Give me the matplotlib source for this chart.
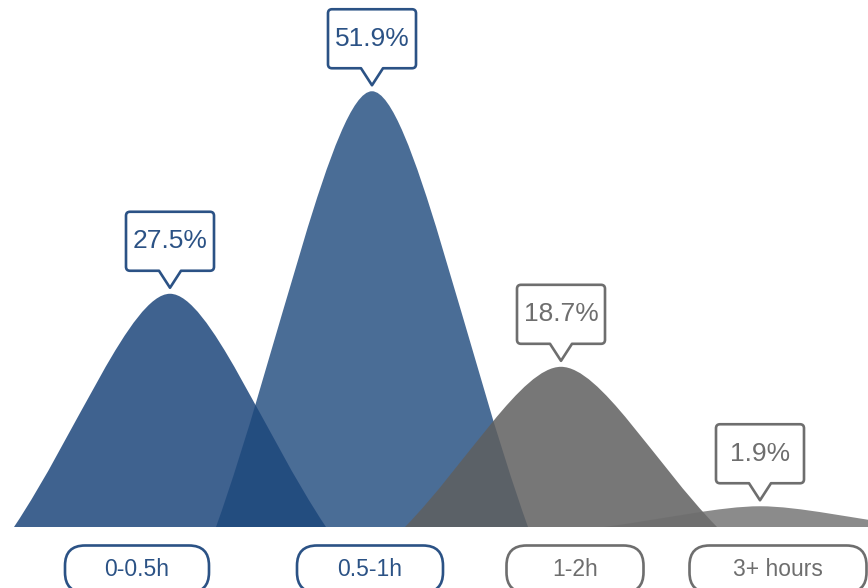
import matplotlib
matplotlib.use('Agg')
import matplotlib.pyplot as plt
from matplotlib.path import Path
from matplotlib.patches import PathPatch

plt.rcParams['font.family'] = ['Liberation Sans', 'DejaVu Sans']

# Données
categories = ["0-0.5h", "0.5-1h", "1-2h", "3+ hours"]
shares     = [27.5, 51.9, 18.7, 1.9]
label_txt  = ["27.5%", "51.9%", "18.7%", "1.9%"]

# Styles
fill_col  = ["#3f628f", "#1d487c", "#5f5f5f", "#6e6e6e"]
fill_alp  = [1.0, 0.8, 0.85, 0.8]
line_col  = ["#2b5285", "#2b5285", "#6e6e6e", "#6e6e6e"]
peak_dx   = [2, 7, -1, 1]          # petit décalage des pics (px)
label_dx  = [-31, 5, 13, 19]       # décalage des étiquettes du bas (px)
label_w   = [144, 146, 137, 177]   # largeur des pastilles du bas (px)

W, H, DPI = 868, 588, 100
X_PX   = 197.0                 # px par catégorie
Y_PX   = 8.3                   # px par point de pourcentage
X0_PX  = 168.0                 # position de la première catégorie
BASE_PX = 61.0                 # hauteur de la ligne de base depuis le bas
FLOOR  = -0.6                  # plancher de l'axe des valeurs
HALF_W = 156.0 / X_PX          # demi-largeur d'une montagne

fig = plt.figure(figsize=(W / DPI, H / DPI), dpi=DPI)
ax = fig.add_axes([0, 0, 1, 1])
ax.set_xlim(-X0_PX / X_PX, (W - X0_PX) / X_PX)
ax.set_ylim(FLOOR - BASE_PX / Y_PX, FLOOR + (H - BASE_PX) / Y_PX)
ax.axis('off')

sx, sy = 1.0 / X_PX, 1.0 / Y_PX   # px -> unités de données


def mountain(xc, top):
    # demi-profil en bézier cubique, puis symétrique
    c1, c2 = (0.40, 0.40), (0.75, 1.0)
    h = top - FLOOR
    b = FLOOR
    verts = [(xc - HALF_W, b),
             (xc - HALF_W + c1[0] * HALF_W, b + c1[1] * h),
             (xc - HALF_W + c2[0] * HALF_W, b + c2[1] * h),
             (xc, top),
             (xc + HALF_W - c2[0] * HALF_W, b + c2[1] * h),
             (xc + HALF_W - c1[0] * HALF_W, b + c1[1] * h),
             (xc + HALF_W, b),
             (xc - HALF_W, b)]
    codes = [Path.MOVETO] + [Path.CURVE4] * 6 + [Path.CLOSEPOLY]
    return Path(verts, codes)


def rounded_box(w, h, r, pw=0, ph=0):
    # boîte arrondie (bas au y=0), avec pointe optionnelle vers le bas
    v, c = [], []
    if pw:
        v += [(-pw, 0), (0, -ph), (pw, 0)]
        c += [Path.MOVETO, Path.LINETO, Path.LINETO]
    else:
        v += [(0, 0)]
        c += [Path.MOVETO]
    v += [(w/2 - r, 0), (w/2, 0), (w/2, r),
          (w/2, h - r), (w/2, h), (w/2 - r, h),
          (-w/2 + r, h), (-w/2, h), (-w/2, h - r),
          (-w/2, r), (-w/2, 0), (-w/2 + r, 0),
          v[0]]
    c += [Path.LINETO, Path.CURVE3, Path.CURVE3,
          Path.LINETO, Path.CURVE3, Path.CURVE3,
          Path.LINETO, Path.CURVE3, Path.CURVE3,
          Path.LINETO, Path.CURVE3, Path.CURVE3,
          Path.CLOSEPOLY]
    return v, c


def place(v, x, y, dy_px):
    return [(x + a * sx, y + (b + dy_px) * sy) for a, b in v]


xs = [i + peak_dx[i] * sx for i in range(len(shares))]

# Montagnes
for i, val in enumerate(shares):
    ax.add_patch(PathPatch(mountain(xs[i], val), facecolor=fill_col[i],
                           alpha=fill_alp[i], edgecolor='none', zorder=2 + i))

# Bulles de valeur
BOX_W, BOX_H, PW, PH, GAP = 88, 59, 11, 17, 6
for i, val in enumerate(shares):
    v, c = rounded_box(BOX_W, BOX_H, 4, PW, PH)
    ax.add_patch(PathPatch(Path(place(v, xs[i], val, PH + GAP), c),
                           facecolor='white', edgecolor=line_col[i],
                           lw=1.9, joinstyle='round', zorder=10))
    ax.annotate(label_txt[i], xy=(xs[i], val),
                xytext=(0, (PH + GAP + BOX_H / 2) * 72 / DPI),
                textcoords='offset points', ha='center', va='center',
                fontsize=19, color=line_col[i], zorder=11)

# Étiquettes des catégories
for i, cat in enumerate(categories):
    xc = i + label_dx[i] * sx
    yc = FLOOR - 42 * sy
    ax.text(xc, yc, cat, ha='center', va='center', fontsize=16.5,
            color=line_col[i], zorder=11)
    v, c = rounded_box(label_w[i], 47, 20)
    ax.add_patch(PathPatch(Path(place(v, xc, yc, -23.5), c),
                           facecolor='white', edgecolor=line_col[i],
                           lw=1.9, zorder=10))

fig.savefig("out.png", dpi=DPI)
